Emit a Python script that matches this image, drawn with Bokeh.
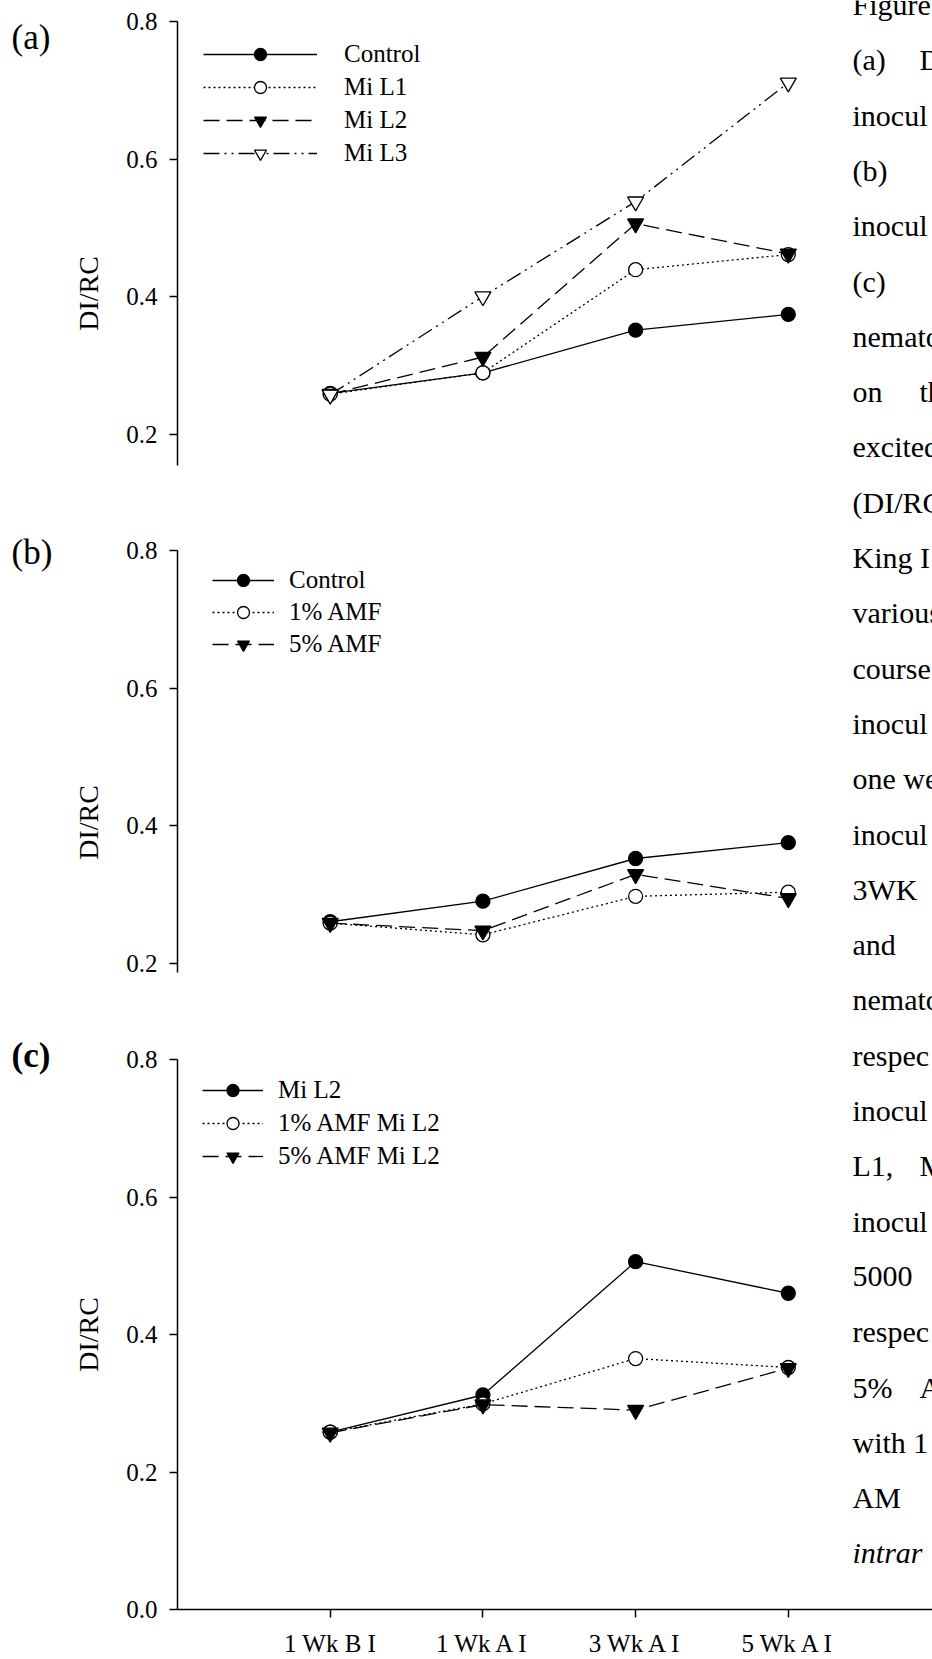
import math
from bokeh.plotting import figure
from bokeh.layouts import column, row
from bokeh.models import (Range1d, FixedTicker, NumeralTickFormatter, Legend,
                          LegendItem, Label)
from bokeh.embed import file_html
from bokeh.resources import INLINE

# ---------------- data ----------------
weeks = ["1 Wk B I", "1 Wk A I", "3 Wk A I", "5 Wk A I"]
week_pos = [1, 2, 3, 4]

a_names = ["Control", "Mi L1", "Mi L2", "Mi L3"]
a_control = [0.259, 0.289, 0.351, 0.374]
a_mi_l1 = [0.258, 0.289, 0.439, 0.461]
a_mi_l2 = [0.258, 0.312, 0.506, 0.462]
a_mi_l3 = [0.257, 0.400, 0.538, 0.711]

b_names = ["Control", "1% AMF", "5% AMF"]
b_control = [0.260, 0.290, 0.352, 0.375]
b_amf1 = [0.258, 0.241, 0.297, 0.303]
b_amf5 = [0.258, 0.247, 0.329, 0.294]

c_names = ["Mi L2", "1% AMF Mi L2", "5% AMF Mi L2"]
c_mi_l2 = [0.258, 0.312, 0.506, 0.460]
c_amf1 = [0.258, 0.299, 0.365, 0.352]
c_amf5 = [0.257, 0.298, 0.290, 0.351]

yticks_ab = [0.2, 0.4, 0.6, 0.8]
yticks_c = [0.0, 0.2, 0.4, 0.6, 0.8]

y_title = "DI/RC"
panel_tags = ["(a)", "(b)", "(c)"]

caption_lines = [
    ["Figure"], ["(a)", "D"], ["inocul"], ["(b)"], ["inocul"], ["(c)"],
    ["nemato"], ["on", "th"], ["excited"], ["(DI/RC"], ["King I"],
    ["various"], ["course"], ["inocul"], ["one we"], ["inocul"], ["3WK"],
    ["and"], ["nemato"], ["respec"], ["inocul"], ["L1,", "M"], ["inocul"],
    ["5000"], ["respec"], ["5%", "A"], ["with 1"], ["AM"], ["intrar"],
]

# ---------------- layout constants ----------------
FONT = "Liberation Serif"
PAGE_W, PAGE_H = 932, 1659
SIDE_W = 110                 # narrow strip holding panel tags + y titles
MAIN_W = PAGE_W - SIDE_W
LEFT = 177                   # page x of the y axes
PX_X = 152.7
PX_Y = 687.5
X_END = (PAGE_W - LEFT) / PX_X
CAP_Y0, CAP_DY = 4, 55.3     # caption line placement

STYLES = {
    "solid_filled_circle": dict(dash="solid", marker="circle", fill="black", size=14),
    "dot_open_circle": dict(dash="2 3", marker="circle", fill="white", size=14),
    "dash_filled_tri": dict(dash="16 7", marker="inverted_triangle", fill="black", size=16),
    "dashdotdot_open_tri": dict(dash="16 5 2 5 2 5", marker="inverted_triangle", fill="white", size=16),
}


def make_fig(page_top, page_bottom, frame_bottom, axis_top_y, y_low, y_ticks, with_x):
    """axis_top_y: page y where 0.8 sits; frame spans page_top..frame_bottom."""
    height = page_bottom - page_top
    y_end = 0.8 + (axis_top_y - page_top) / PX_Y
    y_start = 0.8 - (frame_bottom - axis_top_y) / PX_Y
    kw = dict(width=MAIN_W, height=height, x_range=Range1d(0, X_END),
              y_range=Range1d(y_start, y_end), output_backend="svg",
              toolbar_location=None, min_border_left=LEFT - SIDE_W,
              min_border_right=0, min_border_top=0,
              min_border_bottom=page_bottom - frame_bottom)
    if not with_x:
        kw["x_axis_type"] = None
    p = figure(**kw)
    p.outline_line_color = None
    p.grid.visible = False
    p.background_fill_color = "white"
    p.border_fill_color = "white"
    axes = list(p.yaxis) + (list(p.xaxis) if with_x else [])
    for ax in axes:
        ax.axis_line_width = 1.5
        ax.axis_line_color = "black"
        ax.major_tick_line_width = 1.5
        ax.major_tick_line_color = "black"
        ax.major_tick_out = 8
        ax.major_tick_in = 0
        ax.minor_tick_line_color = None
        ax.major_label_text_font = FONT
        ax.major_label_text_font_size = "25px"
        ax.major_label_text_color = "black"
        ax.major_label_standoff = 12
    p.yaxis.ticker = FixedTicker(ticks=y_ticks)
    p.yaxis.formatter = NumeralTickFormatter(format="0.0")
    p.yaxis.bounds = (y_low, 0.8)
    if with_x:
        p.xaxis.ticker = FixedTicker(ticks=week_pos)
        p.xaxis.major_label_overrides = {k: v for k, v in zip(week_pos, weeks)}
    return p


def add_series(p, ys, style):
    st = STYLES[style]
    lr = p.line(week_pos, ys, line_color="black", line_width=1.3, line_dash=st["dash"])
    sr = p.scatter(week_pos, ys, marker=st["marker"], size=st["size"],
                   fill_color=st["fill"], line_color="black", line_width=1.3)
    return [lr, sr]


def add_legend(p, items, gw, standoff, spacing, vx, legend_top_from_axis, frame_h_below_top):
    n = len(items)
    h = n * 30 + (n - 1) * spacing
    vy = frame_h_below_top - legend_top_from_axis - h
    leg = Legend(items=[LegendItem(label=l, renderers=r) for l, r in items],
                 location=(vx, vy), padding=0, margin=0, spacing=spacing,
                 glyph_width=gw, glyph_height=30, label_height=30,
                 label_standoff=standoff, label_text_font=FONT,
                 label_text_font_size="25px", label_text_color="black",
                 border_line_color=None, background_fill_alpha=0)
    p.add_layout(leg)


def add_caption(p, page_top, page_bottom):
    for i, parts in enumerate(caption_lines):
        base = CAP_Y0 + CAP_DY * i
        if not (page_top <= base < page_bottom):
            continue
        xs = [852] if len(parts) == 1 else [852, 919]
        for x, t in zip(xs, parts):
            p.add_layout(Label(x=x - SIDE_W, y=base - page_top, text=t,
                               x_units="canvas", y_units="canvas", level="overlay",
                               text_font=FONT, text_font_size="30px",
                               text_color="black", text_baseline="alphabetic",
                               text_font_style="italic" if t == "intrar" else "normal"))


# ---------------- panel (a) ----------------
pa = make_fig(0, 475, 475, 21, 0.8 - 444 / PX_Y, yticks_ab, False)
ra = [add_series(pa, a_control, "solid_filled_circle"),
      add_series(pa, a_mi_l1, "dot_open_circle"),
      add_series(pa, a_mi_l2, "dash_filled_tri"),
      add_series(pa, a_mi_l3, "dashdotdot_open_tri")]
add_legend(pa, list(zip(a_names, ra)), 114, 27, 3, 26, 18, 475 - 21)
add_caption(pa, 0, 475)

# ---------------- panel (b) ----------------
pb = make_fig(475, 1025, 1025, 550, 0.8 - 422 / PX_Y, yticks_ab, False)
rb = [add_series(pb, b_control, "solid_filled_circle"),
      add_series(pb, b_amf1, "dot_open_circle"),
      add_series(pb, b_amf5, "dash_filled_tri")]
add_legend(pb, list(zip(b_names, rb)), 62, 15, 2, 35, 15, 1025 - 550)
add_caption(pb, 475, 1025)

# ---------------- panel (c) ----------------
pc = make_fig(1025, 1659, 1609, 1059, 0.0, yticks_c, True)
rc = [add_series(pc, c_mi_l2, "solid_filled_circle"),
      add_series(pc, c_amf1, "dot_open_circle"),
      add_series(pc, c_amf5, "dash_filled_tri")]
add_legend(pc, list(zip(c_names, rc)), 61, 15, 3, 25, 16, 1609 - 1059)
add_caption(pc, 1025, 1700)

# ---------------- side strip: panel tags and y titles ----------------
side = figure(width=SIDE_W, height=PAGE_H, x_range=Range1d(0, SIDE_W),
              y_range=Range1d(PAGE_H, 0), x_axis_type=None, y_axis_type=None,
              output_backend="svg", toolbar_location=None, min_border=0)
side.outline_line_color = None
side.grid.visible = False
tag_y = [37, 552, 1055]
title_y = [293, 822, 1334]
for k in range(3):
    side.add_layout(Label(x=11, y=tag_y[k], text=panel_tags[k], text_font=FONT,
                          text_font_size="35px", text_baseline="middle",
                          text_color="black", level="overlay",
                          text_font_style="bold" if k == 2 else "normal"))
    side.add_layout(Label(x=88, y=title_y[k], text=y_title, angle=math.pi / 2,
                          text_font=FONT, text_font_size="28px",
                          text_align="center", text_baseline="middle",
                          text_color="black", level="overlay"))

layout = row(side, column(pa, pb, pc, spacing=0), spacing=0)
open("out.html", "w").write(file_html(layout, INLINE))
